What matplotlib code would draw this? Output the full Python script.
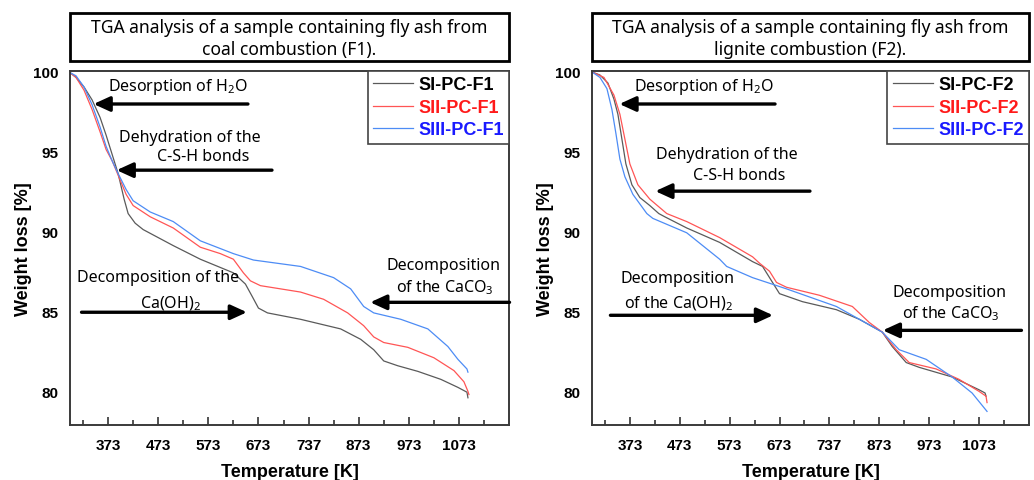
import matplotlib
matplotlib.use("Agg")
import matplotlib.pyplot as plt
from matplotlib.patches import Rectangle
from matplotlib.ticker import FixedLocator

plt.rcParams['font.family'] = ['Liberation Sans', 'DejaVu Sans']
plt.rcParams['mathtext.fontset'] = 'custom'
plt.rcParams['mathtext.rm'] = 'Noto Sans'

# ---- data: fly ash from coal combustion (F1) ----
T_F1_SI = [297, 309, 325, 341, 357, 369, 381, 393, 405, 413, 427, 443, 503, 557, 623, 647, 661, 673, 691,
           757, 837, 877, 903, 923, 951, 991, 1037, 1071, 1089, 1091]
W_F1_SI = [99.9, 99.6, 99.0, 98.2, 97.1, 96.0, 94.8, 93.6, 92.0, 91.1, 90.5, 90.1, 89.1, 88.25, 87.4, 86.7,
           85.9, 85.2, 84.9, 84.5, 83.9, 83.25, 82.6, 81.9, 81.6, 81.25, 80.75, 80.25, 79.95, 79.6]

T_F1_SII = [297, 309, 325, 341, 357, 369, 381, 393, 409, 423, 457, 503, 557, 597, 623, 643, 657, 677, 757,
            803, 851, 883, 903, 923, 971, 1023, 1063, 1083, 1091, 1093]
W_F1_SII = [99.9, 99.6, 98.8, 97.6, 96.2, 95.1, 94.4, 93.5, 92.3, 91.6, 90.9, 90.2, 89.0, 88.6, 88.25, 87.4,
            86.9, 86.6, 86.2, 85.75, 84.9, 84.1, 83.4, 83.05, 82.75, 82.1, 81.3, 80.6, 80.0, 79.8]

T_F1_SIII = [297, 309, 325, 341, 357, 369, 381, 393, 409, 423, 457, 503, 557, 623, 663, 757, 823, 857, 883,
             903, 957, 1011, 1051, 1071, 1083, 1089, 1091]
W_F1_SIII = [99.9, 99.7, 99.0, 97.9, 96.5, 95.3, 94.4, 93.6, 92.6, 91.9, 91.2, 90.6, 89.4, 88.6, 88.2, 87.8,
             87.1, 86.4, 85.3, 84.9, 84.5, 83.9, 82.8, 82.0, 81.6, 81.4, 81.2]

# ---- data: fly ash from lignite combustion (F2) ----
T_F2_SI = [297, 313, 329, 341, 349, 357, 365, 377, 393, 413, 431, 443, 487, 553, 619, 639, 659, 673, 719,
           787, 833, 879, 899, 927, 953, 1019, 1073, 1085, 1087]
W_F2_SI = [99.94, 99.75, 99.25, 98.25, 97.3, 95.75, 94.2, 92.9, 92.1, 91.6, 91.1, 90.9, 90.2, 89.3, 88.1,
           87.8, 86.8, 86.1, 85.6, 85.1, 84.5, 83.7, 82.8, 81.8, 81.5, 80.9, 80.1, 79.9, 79.7]

T_F2_SII = [297, 321, 341, 353, 363, 373, 389, 413, 447, 487, 553, 619, 633, 653, 667, 687, 753, 819, 853,
            879, 907, 933, 987, 1033, 1073, 1087, 1089]
W_F2_SII = [99.94, 99.6, 98.5, 97.3, 95.75, 94.2, 92.9, 92.0, 91.1, 90.6, 89.6, 88.4, 88.0, 87.5, 86.8,
            86.5, 86.0, 85.3, 84.3, 83.7, 82.6, 81.8, 81.4, 80.75, 80.0, 79.7, 79.3]

T_F2_SIII = [297, 313, 327, 337, 345, 353, 363, 379, 407, 419, 487, 519, 553, 567, 619, 687, 787, 879, 913,
             967, 1019, 1059, 1089]
W_F2_SIII = [99.94, 99.6, 98.9, 97.6, 96.1, 94.5, 93.4, 92.3, 91.1, 90.8, 89.9, 89.1, 88.25, 87.8, 87.1,
             86.4, 85.3, 83.7, 82.6, 82.0, 80.9, 79.9, 78.75]

XTICKS = [373, 473, 573, 673, 773, 873, 973, 1073]
XTICK_LABELS = ['373', '473', '573', '673', '737', '873', '973', '1073']
XMINOR = [323, 423, 523, 623, 723, 823, 923, 1023, 1123]
YTICKS = [80, 85, 90, 95, 100]

SERIES_COLORS = ['#5a5a5a', '#ff5555', '#4d8cf5']
LABEL_COLORS = ['black', '#ff1a1a', '#1a1aff']

panels = [
    dict(rect=[0.0677, 0.1143, 0.4246, 0.736],
         title="TGA analysis of a sample containing fly ash from\ncoal combustion (F1).",
         series=[(T_F1_SI, W_F1_SI, 'SI-PC-F1'), (T_F1_SII, W_F1_SII, 'SII-PC-F1'),
                 (T_F1_SIII, W_F1_SIII, 'SIII-PC-F1')],
         texts=[("Desorption of H$_2$O", 512, 99.06),
                ("Dehydration of the", 536, 95.88),
                ("C-S-H bonds", 562, 94.69),
                ("Decomposition of the", 472, 87.12),
                ("Ca(OH)$_2$", 498, 85.5),
                ("Decomposition", 1042, 87.88),
                ("of the CaCO$_3$", 1044, 86.56)],
         arrows=[((652, 97.94), (344, 97.94)),
                 ((700, 93.81), (390, 93.81)),
                 ((320, 84.94), (650, 84.94)),
                 ((1174, 85.56), (896, 85.56))]),
    dict(rect=[0.5725, 0.1143, 0.4226, 0.736],
         title="TGA analysis of a sample containing fly ash from\nlignite combustion (F2).",
         series=[(T_F2_SI, W_F2_SI, 'SI-PC-F2'), (T_F2_SII, W_F2_SII, 'SII-PC-F2'),
                 (T_F2_SIII, W_F2_SIII, 'SIII-PC-F2')],
         texts=[("Desorption of H$_2$O", 522, 99.06),
                ("Dehydration of the", 568, 94.81),
                ("C-S-H bonds", 592, 93.5),
                ("Decomposition", 468, 87.06),
                ("of the Ca(OH)$_2$", 470, 85.56),
                ("Decomposition", 1014, 86.19),
                ("of the CaCO$_3$", 1016, 84.94)],
         arrows=[((664, 97.94), (352, 97.94)),
                 ((734, 92.5), (424, 92.5)),
                 ((334, 84.75), (660, 84.75)),
                 ((1158, 83.81), (880, 83.81))]),
]

fig = plt.figure(figsize=(10.34, 4.81), dpi=100)
ANN_FONT = ['Noto Sans', 'DejaVu Sans']

for p in panels:
    ax = fig.add_axes(p['rect'])
    for (t, w, lab), c in zip(p['series'], SERIES_COLORS):
        ax.plot(t, w, color=c, lw=0.9, label=lab)
    ax.set_xlim(297, 1173)
    ax.set_ylim(77.9, 100)
    ax.set_xticks(XTICKS)
    ax.set_xticklabels(XTICK_LABELS)
    ax.xaxis.set_minor_locator(FixedLocator(XMINOR))
    ax.set_yticks(YTICKS)
    ax.tick_params(axis='x', which='major', direction='in', length=6, width=1.2,
                   pad=9, labelsize=11, color='#333333')
    ax.tick_params(axis='x', which='minor', direction='in', length=3.5, width=1.2, color='#333333')
    ax.tick_params(axis='y', length=0, pad=8, labelsize=11)
    for lbl in ax.get_xticklabels() + ax.get_yticklabels():
        lbl.set_fontweight('bold')
    for s in ax.spines.values():
        s.set_color('#3a3a3a')
        s.set_linewidth(1.4)
    ax.set_xlabel('Temperature [K]', fontsize=13, fontweight='bold', labelpad=8)
    ax.set_ylabel('Weight loss [%]', fontsize=13, fontweight='bold', labelpad=1)

    leg = ax.legend(loc='upper right', bbox_to_anchor=(1.0, 1.0), borderaxespad=0,
                    fancybox=False, edgecolor='#444444', framealpha=1,
                    prop=dict(weight='bold', size=13), handlelength=2.2,
                    handletextpad=0.3, labelspacing=0.3, borderpad=0.3)
    leg.get_frame().set_linewidth(1.2)
    for txt, col in zip(leg.get_texts(), LABEL_COLORS):
        txt.set_color(col)

    # title box spanning the axes width
    ax.add_patch(Rectangle((0, 1.028), 1, 0.136, transform=ax.transAxes, fill=False,
                           edgecolor='black', lw=2, clip_on=False))
    ax.text(0.5, 1.094, p['title'], transform=ax.transAxes, ha='center', va='center',
            fontsize=12.6, family=ANN_FONT, linespacing=1.3)

    for s, x, y in p['texts']:
        ax.text(x, y, s, ha='center', va='center', fontsize=11.5, family=ANN_FONT)
    for tail, head in p['arrows']:
        ax.annotate('', xy=head, xytext=tail,
                    arrowprops=dict(arrowstyle='-|>,head_length=0.7,head_width=0.32',
                                    lw=2.4, color='black', mutation_scale=14,
                                    shrinkA=0, shrinkB=0),
                    annotation_clip=False)

fig.savefig('out.png', dpi=100)
